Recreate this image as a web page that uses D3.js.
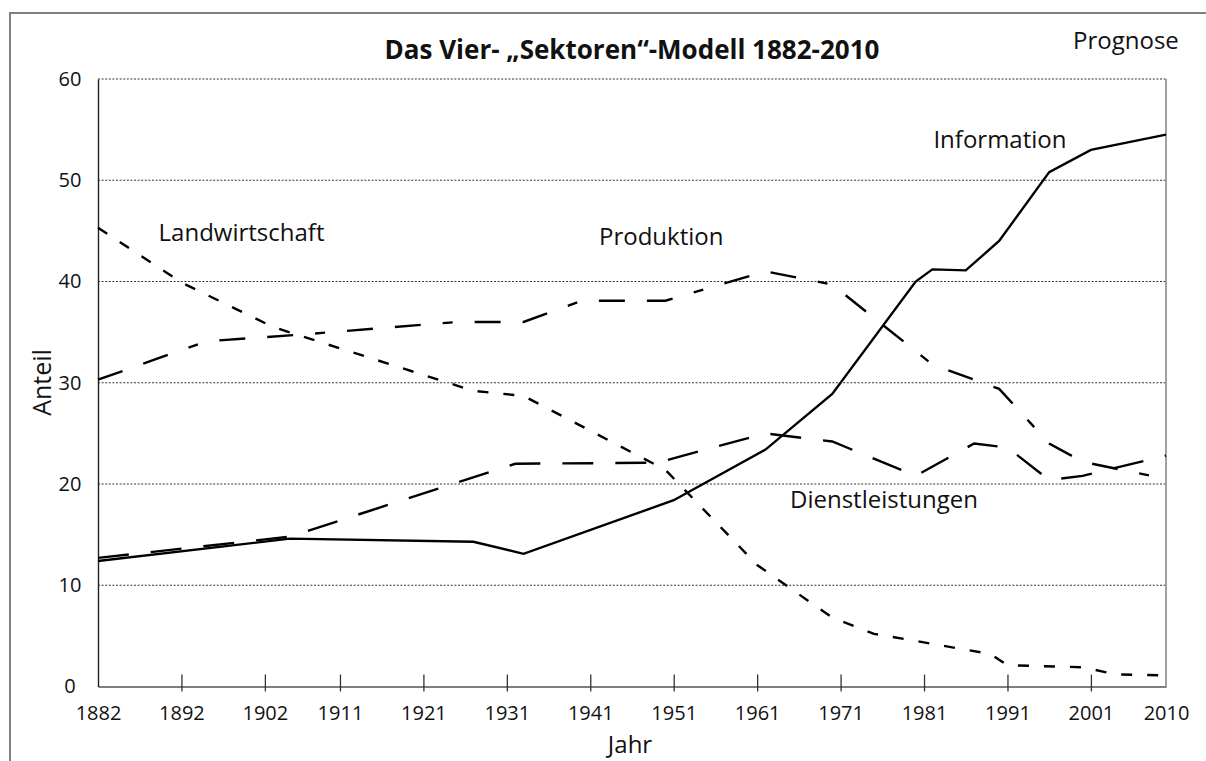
<!DOCTYPE html>
<html>
<head>
<meta charset="utf-8">
<script src="https://cdn.jsdelivr.net/npm/d3@7"></script>
<style>
  body { margin: 0; background: #fff; }
  svg { display: block; font-family: 'Open Sans', sans-serif; }
</style>
</head>
<body>
<svg id="chart" width="1206" height="761"></svg>
<script>
var tickYears = [1882, 1892, 1902, 1911, 1921, 1931, 1941, 1951, 1961, 1971, 1981, 1991, 2001, 2010];
var valueTicks = [0, 10, 20, 30, 40, 50, 60];

// [year, share in %]
var landwirtschaft = [[1882, 45.3], [1892, 39.9], [1903, 35.5], [1927, 29.2], [1933, 28.7], [1950, 21.4],
  [1961, 12.0], [1970, 6.8], [1975, 5.2], [1980, 4.5], [1989, 3.2], [1991, 2.1], [2000, 1.9], [2004, 1.2], [2010, 1.1]];
var produktion = [[1882, 30.3], [1895, 34.1], [1907, 34.8], [1925, 36.0], [1933, 36.0], [1940, 38.1], [1950, 38.1],
  [1962, 41.0], [1970, 39.7], [1982, 31.8], [1990, 29.4], [1996, 24.0], [2000, 22.2], [2010, 20.5]];
var dienstleistungen = [[1882, 12.7], [1905, 14.8], [1932, 22.0], [1949, 22.1], [1962, 25.0], [1970, 24.2],
  [1980, 20.8], [1987, 24.0], [1991, 23.6], [1996, 20.4], [2000, 20.8], [2010, 22.8]];
var information = [[1882, 12.4], [1905, 14.6], [1927, 14.3], [1933, 13.1], [1951, 18.4], [1962, 23.4], [1970, 28.9],
  [1980, 40.0], [1982, 41.2], [1986, 41.1], [1990, 44.0], [1996, 50.8], [2001, 53.0], [2010, 54.5]];

function sectorChart(id) {

  var svg = d3.select('#' + id),
      margin = { top: 79, right: 40, bottom: 74.5, left: 98 },
      width = +svg.attr('width') - margin.left - margin.right,
      height = +svg.attr('height') - margin.top - margin.bottom;

  var series = [
    { name: 'Landwirtschaft', values: landwirtschaft, dash: '11 15', label: [1899.2, 44.0] },
    { name: 'Produktion', values: produktion, dash: '26 22 26 22 10 22', label: [1949.5, 43.6] },
    { name: 'Dienstleistungen', values: dienstleistungen, dash: '31 22', label: [1976.2, 17.6] },
    { name: 'Information', values: information, dash: null, label: [1990.1, 53.2] }
  ];

  // outer frame
  svg.append('rect')
      .attr('x', 10)
      .attr('y', 13)
      .attr('width', 1300)
      .attr('height', 1000)
      .attr('fill', 'none')
      .attr('stroke', '#808080')
      .attr('stroke-width', 2);

  var g = svg.append('g').attr('transform', 'translate(' + margin.left + ',' + margin.top + ')');

  var x = d3.scaleLinear()
      .domain([1882, 2010])
      .range([0, width]);

  var y = d3.scaleLinear()
      .domain([0, 60])
      .range([height, 0]);

  // dotted gridlines
  g.append('g')
    .selectAll('line')
    .data(valueTicks.slice(1))
    .enter().append('line')
      .attr('x1', 0)
      .attr('x2', width)
      .attr('y1', function(d) { return y(d); })
      .attr('y2', function(d) { return y(d); })
      .attr('stroke', '#333')
      .attr('stroke-width', 1)
      .attr('stroke-dasharray', '2 1.6');

  // right border of plot area
  g.append('line')
      .attr('x1', width)
      .attr('x2', width)
      .attr('y1', 0)
      .attr('y2', height)
      .attr('stroke', '#8a8a8a')
      .attr('stroke-width', 1.6);

  // x axis
  var xAxis = g.append('g')
      .attr('transform', 'translate(0,' + height + ')')
      .call(d3.axisBottom(x).tickValues(tickYears).tickFormat(d3.format('d')).tickSize(0).tickPadding(19));

  xAxis.select('.domain').attr('stroke', '#555').attr('stroke-width', 1.6);
  xAxis.selectAll('text')
      .attr('font-size', 20)
      .attr('font-family', 'Open Sans, sans-serif')
      .attr('fill', '#111');

  xAxis.selectAll('.tick')
    .filter(function(d, i) { return i > 0 && i < tickYears.length - 1; })
    .append('line')
      .attr('y1', -12)
      .attr('y2', 5)
      .attr('stroke', '#333')
      .attr('stroke-width', 1.3);

  // y axis
  var yAxis = g.append('g')
      .call(d3.axisLeft(y).tickValues(valueTicks).tickSize(0));

  yAxis.select('.domain').attr('stroke', '#222').attr('stroke-width', 1.4);
  yAxis.selectAll('text')
      .attr('x', -28)
      .attr('text-anchor', 'middle')
      .attr('font-size', 20)
      .attr('font-family', 'Open Sans, sans-serif')
      .attr('fill', '#111');

  // series
  var line = d3.line()
      .x(function(d) { return x(d[0]); })
      .y(function(d) { return y(d[1]); });

  g.append('g')
    .selectAll('path')
    .data(series)
    .enter().append('path')
      .attr('d', function(d) { return line(d.values); })
      .attr('fill', 'none')
      .attr('stroke', '#000')
      .attr('stroke-width', 2.4)
      .attr('stroke-linejoin', 'miter')
      .attr('stroke-dasharray', function(d) { return d.dash; });

  g.append('g')
      .attr('font-size', 24)
      .attr('text-anchor', 'middle')
      .attr('fill', '#111')
    .selectAll('text')
    .data(series)
    .enter().append('text')
      .attr('x', function(d) { return x(d.label[0]); })
      .attr('y', function(d) { return y(d.label[1]); })
      .text(function(d) { return d.name; });

  g.append('text')
      .attr('x', x(2005.2))
      .attr('y', y(63.0))
      .attr('font-size', 24)
      .attr('text-anchor', 'middle')
      .attr('fill', '#111')
      .text('Prognose');

  // title and axis titles
  g.append('text')
      .attr('x', width / 2)
      .attr('y', -19.7)
      .attr('font-size', 26)
      .attr('font-weight', 'bold')
      .attr('text-anchor', 'middle')
      .attr('fill', '#111')
      .text('Das Vier- \u201ESektoren\u201C-Modell 1882-2010');

  g.append('text')
      .attr('x', width / 2 - 2)
      .attr('y', height + 66.8)
      .attr('font-size', 24)
      .attr('text-anchor', 'middle')
      .attr('fill', '#111')
      .text('Jahr');

  g.append('text')
      .attr('transform', 'translate(' + (51 - margin.left) + ',' + (382.5 - margin.top) + ') rotate(-90)')
      .attr('font-size', 25)
      .attr('text-anchor', 'middle')
      .attr('fill', '#111')
      .text('Anteil');
}

sectorChart('chart');
</script>
</body>
</html>
